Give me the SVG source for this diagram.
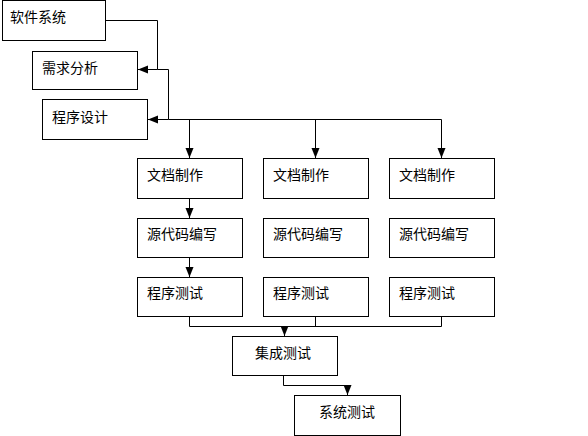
<svg xmlns="http://www.w3.org/2000/svg" width="588" height="436" viewBox="0 0 588 436">
<style>
.box{fill:#fff;stroke:#000;stroke-width:1}
.t{font-family:"Noto Sans CJK SC","Liberation Sans",sans-serif;font-size:14px;fill:#000}
.c{fill:none;stroke:#000;stroke-width:1}
</style>
<defs>
<marker id="ah" markerUnits="userSpaceOnUse" markerWidth="10" markerHeight="10" viewBox="0 0 10 10" refX="10" refY="5" orient="auto">
<path d="M0,1 L10,5 L0,9 Z" fill="#000"/>
</marker>
</defs>
<rect width="588" height="436" fill="#fff"/>
<g id="connectors">
<path class="c" d="M105,20.5 H157.5 V69.5 H138" marker-end="url(#ah)"/>
<path class="c" d="M157.5,69.5 H168.5 V119.5 H148" marker-end="url(#ah)"/>
<path class="c" d="M168.5,119.5 H441.5"/>
<path class="c" d="M189.5,119.5 V158" marker-end="url(#ah)"/>
<path class="c" d="M315.5,119.5 V158" marker-end="url(#ah)"/>
<path class="c" d="M441.5,119.5 V158" marker-end="url(#ah)"/>
<path class="c" d="M189.5,198 V218" marker-end="url(#ah)"/>
<path class="c" d="M189.5,258 V277" marker-end="url(#ah)"/>
<path class="c" d="M189.5,317 V326.5 H441.5 V317"/>
<path class="c" d="M315.5,317 V326.5"/>
<path class="c" d="M284.5,326.5 V336" marker-end="url(#ah)"/>
<path class="c" d="M283.5,375 V385.5 H347.5 V395" marker-end="url(#ah)"/>
</g>
<g id="n-ruanjian"><rect class="box" x="2.5" y="0.5" width="103" height="40"/><text class="t" x="10" y="22">软件系统</text></g>
<g id="n-xuqiu"><rect class="box" x="32.5" y="51.5" width="105" height="38"/><text class="t" x="42" y="73">需求分析</text></g>
<g id="n-chengxusheji"><rect class="box" x="42.5" y="99.5" width="105" height="40"/><text class="t" x="52" y="122">程序设计</text></g>
<g id="n-wendang1"><rect class="box" x="137.5" y="158.5" width="105" height="40"/><text class="t" x="147" y="180">文档制作</text></g>
<g id="n-wendang2"><rect class="box" x="263.5" y="158.5" width="105" height="40"/><text class="t" x="273" y="180">文档制作</text></g>
<g id="n-wendang3"><rect class="box" x="389.5" y="158.5" width="105" height="40"/><text class="t" x="399" y="180">文档制作</text></g>
<g id="n-yuandaima1"><rect class="box" x="137.5" y="218.5" width="105" height="39"/><text class="t" x="147" y="239">源代码编写</text></g>
<g id="n-yuandaima2"><rect class="box" x="263.5" y="218.5" width="105" height="39"/><text class="t" x="273" y="239">源代码编写</text></g>
<g id="n-yuandaima3"><rect class="box" x="389.5" y="218.5" width="105" height="39"/><text class="t" x="399" y="239">源代码编写</text></g>
<g id="n-ceshi1"><rect class="box" x="137.5" y="277.5" width="105" height="39"/><text class="t" x="147" y="298">程序测试</text></g>
<g id="n-ceshi2"><rect class="box" x="263.5" y="277.5" width="105" height="39"/><text class="t" x="273" y="298">程序测试</text></g>
<g id="n-ceshi3"><rect class="box" x="389.5" y="277.5" width="105" height="39"/><text class="t" x="399" y="298">程序测试</text></g>
<g id="n-jicheng"><rect class="box" x="232.5" y="336.5" width="105" height="39"/><text class="t" x="255" y="358">集成测试</text></g>
<g id="n-xitong"><rect class="box" x="294.5" y="395.5" width="106" height="40"/><text class="t" x="319" y="417">系统测试</text></g>
</svg>
